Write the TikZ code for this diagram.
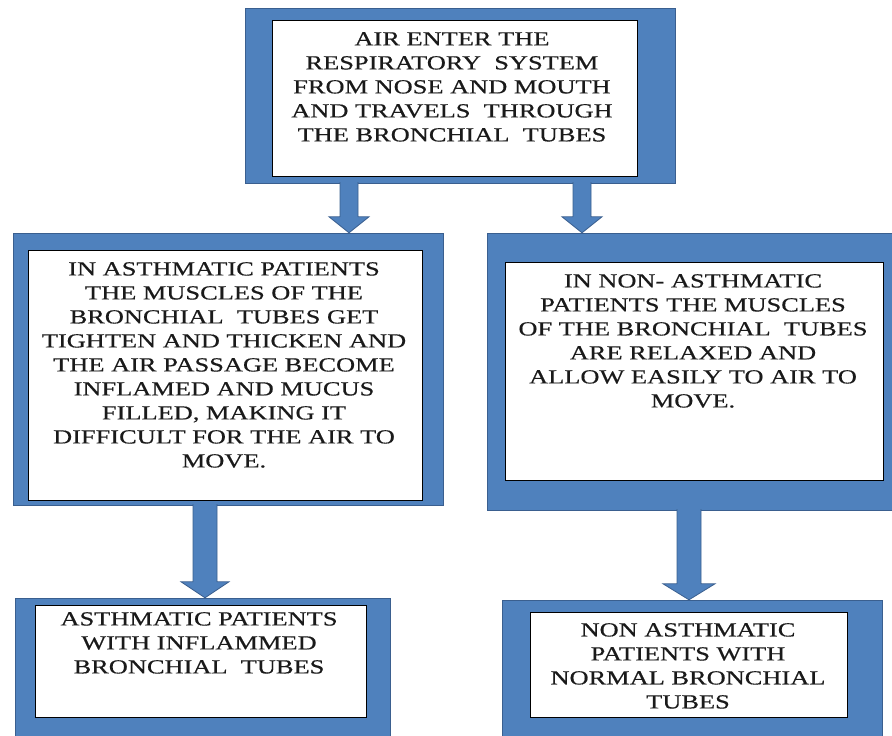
\documentclass[tikz,border=0pt]{standalone}
\usepackage{fontspec}
\newfontfamily\capfont[FakeStretch=1.32, FakeBold=0.5]{Liberation Serif}
\usetikzlibrary{calc}
\definecolor{panelblue}{HTML}{4F81BD}
\definecolor{paneledge}{HTML}{3A5F8F}
\definecolor{inkgray}{HTML}{1A1A1A}
\tikzset{
  panel/.style={fill=panelblue, draw=paneledge, line width=0.8pt},
  card/.style={fill=white, draw=black, line width=1pt},
  caption/.style={anchor=north, align=center, inner sep=0pt, text=inkgray,
    font=\capfont\fontsize{20}{24}\selectfont},
  blockarrow/.style={fill=panelblue, draw=paneledge, line width=0.8pt, line join=miter},
}
% block arrow: x-position, source node, target node, shaft half-width, head half-width
\newcommand\flowarrow[5]{%
  \draw[blockarrow]
    ($(#1 |- #2.south)+(-#4,-1)$) -- ($(#1 |- #3.north)+(-#4,-16)$)
    -- ($(#1 |- #3.north)+(-#5,-16)$) -- (#1 |- #3.north)
    -- ($(#1 |- #3.north)+(#5,-16)$) -- ($(#1 |- #3.north)+(#4,-16)$)
    -- ($(#1 |- #2.south)+(#4,-1)$);}
\begin{document}
\begin{tikzpicture}[x=1pt, y=-1pt]
\useasboundingbox (0,0) rectangle (892,736);

% outer blue panels
\path[panel] (245,8) rectangle (675,183);
\node[inner sep=0pt, minimum width=430pt, minimum height=175pt] (top) at (460,95.5) {};
\path[panel] (13,233) rectangle (443,505);
\node[inner sep=0pt, minimum width=430pt, minimum height=272pt] (midL) at (228,369) {};
\path[panel] (487,233) rectangle (893,510);
\node[inner sep=0pt, minimum width=406pt, minimum height=277pt] (midR) at (690,371.5) {};
\path[panel] (15,598) rectangle (390,740);
\node[inner sep=0pt, minimum width=375pt, minimum height=142pt] (botL) at (202.5,669) {};
\path[panel] (502,600) rectangle (882,740);
\node[inner sep=0pt, minimum width=380pt, minimum height=140pt] (botR) at (692,670) {};

% white cards
\path[card] (272,20) rectangle (637,176);
\path[card] (28,250) rectangle (422,500);
\path[card] (505,262) rectangle (883,480);
\path[card] (35,605) rectangle (366,717);
\path[card] (530,612) rectangle (847,717);

% connectors
\coordinate (xa) at (349,0);
\coordinate (xb) at (582,0);
\coordinate (xc) at (205,0);
\coordinate (xd) at (689,0);
\flowarrow{xa}{top}{midL}{9}{20}
\flowarrow{xb}{top}{midR}{9}{20}
\flowarrow{xc}{midL}{botL}{12}{24}
\flowarrow{xd}{midR}{botR}{12}{26}

% texts
\node[caption] (t1) at (452,32) {AIR ENTER THE\\RESPIRATORY\ \ SYSTEM\\FROM NOSE AND MOUTH\\AND TRAVELS\ \ THROUGH\\THE BRONCHIAL\ \ TUBES};
\node[caption] (t2) at (224,262) {IN ASTHMATIC PATIENTS\\THE MUSCLES OF THE\\BRONCHIAL\ \ TUBES GET\\TIGHTEN AND THICKEN AND\\THE AIR PASSAGE BECOME\\INFLAMED AND MUCUS\\FILLED, MAKING IT\\DIFFICULT FOR THE AIR TO\\MOVE.};
\node[caption] (t3) at (693,274) {IN NON- ASTHMATIC\\PATIENTS THE MUSCLES\\OF THE BRONCHIAL\ \ TUBES\\ARE RELAXED AND\\ALLOW EASILY TO AIR TO\\MOVE.};
\node[caption] (t4) at (199,612) {ASTHMATIC PATIENTS\\WITH INFLAMMED\\BRONCHIAL\ \ TUBES};
\node[caption] (t5) at (688,623) {NON ASTHMATIC\\PATIENTS WITH\\NORMAL BRONCHIAL\\TUBES};
\end{tikzpicture}
\end{document}
